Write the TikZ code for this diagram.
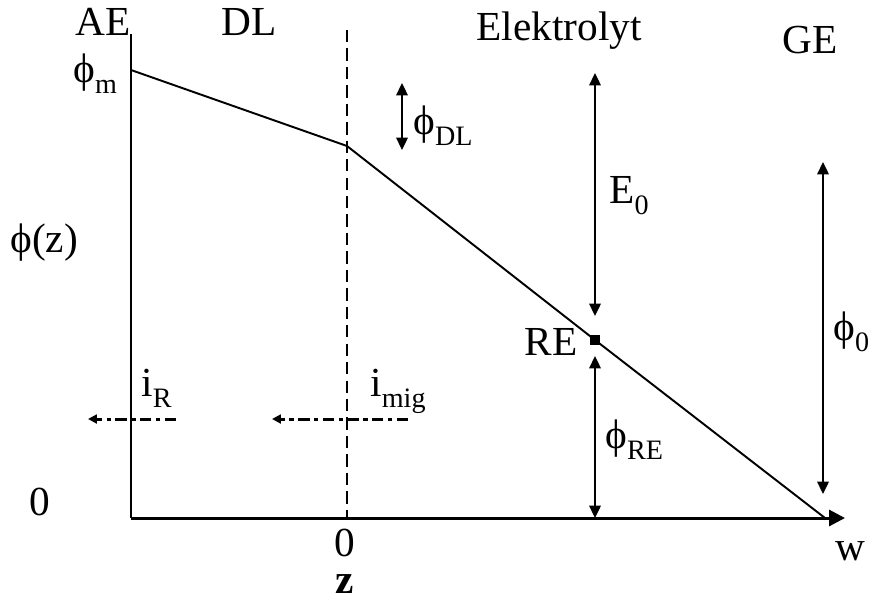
\documentclass[tikz,border=0pt]{standalone}
\usepackage{fontspec}
\setmainfont{Liberation Serif}
\usetikzlibrary{arrows.meta, positioning, calc}

\newcommand{\lsub}[1]{\raisebox{-0.27em}{\fontsize{16}{16}\selectfont #1}}
\newcommand{\ph}{ϕ}

\begin{document}
\begin{tikzpicture}[
    x=0.02cm, y=-0.02cm,
    lbl/.style={font=\fontsize{23.5}{26}\selectfont, inner sep=0pt, anchor=base},
    lblw/.style={lbl, anchor=base west},
    lble/.style={lbl, anchor=base east},
    axisline/.style={line width=1.7pt},
    potline/.style={line width=1.1pt},
    dblarrow/.style={{Triangle[length=7pt, width=6.5pt]}-{Triangle[length=7pt, width=6.5pt]}, line width=1.1pt},
    flux/.style={-{Triangle[length=5pt, width=5pt]}, line width=1.7pt, dash pattern=on 6.5pt off 2.5pt on 2.5pt off 2.5pt},
]

\useasboundingbox (0,0) rectangle (874,599);

% ===== Axes =====
\coordinate (O) at (131,518);
\coordinate (Ytop) at (131,34);
\coordinate (Xend) at (845,518);
\draw[axisline] (Ytop) -- (O);
\draw[axisline, -{Triangle[length=9pt, width=9pt]}] (O) -- (Xend);

% double layer boundary
\coordinate (Dtop) at (347,30);
\coordinate (Dbot) at (347,518);
\draw[line width=0.9pt, dash pattern=on 7pt off 3.5pt] (Dtop) -- (Dbot);

% ===== Potential profile =====
\coordinate (P0) at (131,70);
\coordinate (P1) at (347,146);
\coordinate (RE) at (595,340);
\coordinate (P3) at (825,518);
\draw[potline] (P0) -- (P1) -- (RE) -- (P3);
\node[fill=black, minimum size=6pt, inner sep=0pt] (REbox) at (RE) {};

% ===== Potential differences =====
\coordinate (E0a) at (595,73);
\coordinate (E0b) at (595,316);
\coordinate (REa) at (595,356);
\coordinate (REb) at (595,518);
\coordinate (F0a) at (823,162);
\coordinate (F0b) at (823,494);
\coordinate (DLa) at (402,83);
\coordinate (DLb) at (402,150);
\draw[dblarrow] (E0a) -- (E0b);
\draw[dblarrow] (REa) -- (REb);
\draw[dblarrow] (F0a) -- (F0b);
\draw[dblarrow] (DLa) -- (DLb);

% ===== Currents =====
\coordinate (iRa) at (176,419);
\coordinate (iRb) at (88,419);
\coordinate (iMa) at (408,419);
\coordinate (iMb) at (272,419);
\draw[flux] (iRa) -- (iRb);
\draw[flux] (iMa) -- (iMb);

% ===== Labels =====
\node[lbl] (tAE) at (103,35) {AE};
\node[lbl] (tDL) at (249,35) {DL};
\node[lbl] (tEl) at (559,40) {Elektrolyt};
\node[lbl] (tGE) at (810,53) {GE};
\node[lblw] (tphim) at (73,82) {\ph\lsub{m}};
\node[lblw] (tphiz) at (10,252) {\ph(z)};
\node[lblw] (tphiDL) at (413,134) {\ph\lsub{DL}};
\node[lblw] (tE0) at (609,203) {E\lsub{0}};
\node[lble] (tRE) at (578,355) {RE};
\node[lblw] (tphiRE) at (605,448) {\ph\lsub{RE}};
\node[lblw] (tphi0) at (833,340) {\ph\lsub{0}};
\node[lblw] (tiR) at (141,396) {i\lsub{R}};
\node[lblw] (timig) at (370,396) {i\lsub{mig}};
\node[lbl] (tzero) at (40,515) {0};
\node[lbl] (tzerox) at (345,556) {0};
\node[lbl] (tw) at (850,560) {w};
\node[lbl] (tz) at (345,593) {\textbf{z}};

\end{tikzpicture}
\end{document}
